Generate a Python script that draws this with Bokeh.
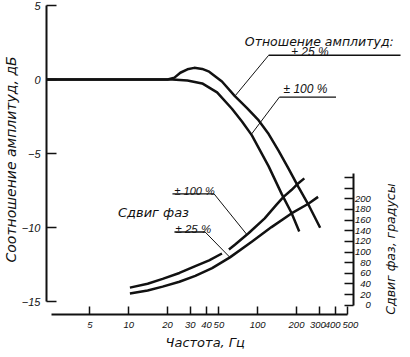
import math
from bokeh.plotting import figure
from bokeh.models import Range1d, LinearAxis, FixedTicker, Label, Title
from bokeh.embed import file_html
from bokeh.resources import INLINE

NAN = float("nan")

# ---------------- data ----------------
# amplitude ratio, dB  (±25 % and ±100 %)
amp_freq_25 = [2.3, 20.0, 22.6, 25.1, 28.5, 32.2, 37.1, 42.0, 52.8, 66.5, 82.3, 101.8, 121.6, 145, 173, 206.7, 251, 305]
amp_db_25 = [0, 0, 0.13, 0.46, 0.69, 0.79, 0.72, 0.53, -0.13, -1.12, -1.91, -2.76, -3.68, -4.80, -5.99, -7.24, -8.55, -10.0]
amp_freq_100 = [2.3, 21.8, 28.5, 37.1, 48.4, 63.1, 75.5, 89.9, 121.6, 153, 183, 210]
amp_db_100 = [0, 0, -0.07, -0.26, -0.86, -1.97, -2.83, -3.75, -5.86, -7.70, -9.01, -10.26]

# phase shift, degrees (the ±100 % curve is interrupted where a leader crosses it)
ph_freq_100 = [10.2, 14.0, 18.3, 24.7, 32.8, 42.0, 52.8, NAN, 59.8, 66.5, 85.3, 113.3, 140, 158.6, 182.6, 206.7, 230]
ph_deg_100 = [33.0, 40.4, 49.5, 60.6, 73.4, 84.4, 97.2, NAN, 104.6, 113.8, 135.8, 163.3, 189.0, 203.7, 216.5, 229.4, 238.5]
ph_freq_25 = [10.2, 14.0, 18.3, 24.7, 32.8, 44.3, 60.9, 89.9, 128, 182.6, 247, 294]
ph_deg_25 = [22.0, 27.5, 34.9, 44.0, 55.0, 69.7, 89.9, 119.3, 146.8, 172.5, 190.8, 203.7]

freq_ticks = [5, 10, 20, 30, 40, 50, 100, 200, 300, 400, 500]
freq_tick_labels = ["5", "10", "20", "30", "40", "50", "100", "200", "300", "400", "500"]
db_ticks = [-15, -10, -5, 0, 5]
db_tick_labels = ["−15", "−10", "−5", "0", "5"]
phase_ticks = [0, 20, 40, 60, 80, 100, 120, 140, 160, 180, 200, 220, 240]
phase_tick_labels = ["0", "20", "40", "60", "80", "100", "120", "140", "160", "180", "200", "", ""]

# ---------------- figure ----------------
TEXT_FONT = "DejaVu Sans"
NUM_FONT = "Liberation Sans"
INK = "#111111"
NB = "\u00a0"

p = figure(width=402, height=349, x_axis_type="log",
           x_range=Range1d(2.2989, 1328), y_range=Range1d(-15.86, 5.0),
           output_backend="svg", toolbar_location=None,
           min_border_left=43, min_border_right=0, min_border_top=5, min_border_bottom=32)
p.extra_y_ranges = {"phase": Range1d(-17.5, 563.5)}
p.outline_line_color = None
p.xgrid.visible = False
p.ygrid.visible = False
p.background_fill_color = "white"
p.border_fill_color = "white"

def style_axis(ax, size):
    ax.axis_line_color = INK
    ax.axis_line_width = 2
    ax.major_tick_line_color = INK
    ax.major_tick_line_width = 1.5
    ax.minor_tick_line_color = None
    ax.major_label_text_font = NUM_FONT
    ax.major_label_text_font_style = "italic"
    ax.major_label_text_font_size = size
    ax.major_label_text_color = INK

# crowded right-hand frequency labels are nudged sideways with padding
shown_freq_labels = list(freq_tick_labels)
shown_freq_labels[-3] = shown_freq_labels[-3] + NB
shown_freq_labels[-2] = shown_freq_labels[-2] + NB + NB
shown_freq_labels[-1] = NB + NB + shown_freq_labels[-1]

xa = p.xaxis[0]
xa.ticker = FixedTicker(ticks=freq_ticks, minor_ticks=[])
xa.bounds = (2.5, 500)
xa.major_label_overrides = dict(zip(freq_ticks, shown_freq_labels))
xa.major_tick_in = 8
xa.major_tick_out = 0
xa.major_label_standoff = 4
style_axis(xa, "9.5px")

ya = p.yaxis[0]
ya.ticker = FixedTicker(ticks=db_ticks, minor_ticks=[])
ya.bounds = (-15, 5)
ya.major_label_overrides = dict(zip(db_ticks, db_tick_labels))
ya.major_tick_in = 10
ya.major_tick_out = 0
ya.major_label_standoff = 6
style_axis(ya, "11px")

pa = LinearAxis(y_range_name="phase", fixed_location=557,
                ticker=FixedTicker(ticks=phase_ticks, minor_ticks=[]),
                bounds=(0, 248), major_tick_in=0, major_tick_out=9,
                major_label_standoff=-26,
                major_label_overrides=dict(zip(phase_ticks, phase_tick_labels)))
style_axis(pa, "9.5px")
p.add_layout(pa, "left")

# axis titles
p.add_layout(Title(text="Соотношение амплитуд, дБ", align="left", offset=52, standoff=0,
                   text_font=TEXT_FONT, text_font_style="italic", text_font_size="14px",
                   text_color=INK), "left")
p.add_layout(Title(text="Частота, Гц", align="left", offset=119, standoff=0,
                   text_font=TEXT_FONT, text_font_style="italic", text_font_size="13px",
                   text_color=INK), "below")

# ---------------- curves ----------------
p.line(amp_freq_25, amp_db_25, line_width=2.5, line_color=INK)
p.line(amp_freq_100, amp_db_100, line_width=2.5, line_color=INK)
p.line(ph_freq_100, ph_deg_100, y_range_name="phase", line_width=2.5, line_color=INK)
p.line(ph_freq_25, ph_deg_25, y_range_name="phase", line_width=2.5, line_color=INK)

# ---------------- annotations ----------------
def lbl(x, y, text, size="12px", rng="default", angle=0, align="left",
        baseline="alphabetic", font=TEXT_FONT):
    p.add_layout(Label(x=x, y=y, text=text, y_range_name=rng, angle=angle,
                       text_font=font, text_font_style="italic", text_font_size=size,
                       text_color=INK, text_align=align, text_baseline=baseline))

def seg(xs, ys, rng="default", w=1.0):
    p.line(xs, ys, y_range_name=rng, line_width=w, line_color=INK)

# amplitude labels
lbl(79.4, 2.55, "Отношение амплитуд:", size="12.5px")
lbl(182.6, 1.86, "± 25 %", font=NUM_FONT)
seg([121.6, 1282], [1.64, 1.64], w=1.3)
seg([121.6, 66.5], [1.64, -1.12])
lbl(158.5, -0.62, "± 100 %", font=NUM_FONT)
seg([147.5, 405], [-1.18, -1.18], w=1.3)
seg([147.5, 88.3], [-1.18, -3.75])

# phase labels
lbl(8.23, 174.3, "Сдвиг фаз", size="13px", rng="phase")
lbl(22.6, 214.5, "± 100 %", size="11px", rng="phase", font=NUM_FONT)
seg([21.8, 45.9], [209.2, 209.2], rng="phase", w=1.3)
seg([45.9, 82.3], [209.2, 133.0], rng="phase")
lbl(23.0, 143.5, "± 25 %", size="11.5px", rng="phase", font=NUM_FONT)
seg([22.6, 39.1], [137.6, 137.6], rng="phase", w=1.3)
seg([39.1, 60.9], [137.6, 89.9], rng="phase")

# right axis title (inside the drawing area)
lbl(1074, 105.5, "Сдвиг фаз, градусы", size="12.5px", rng="phase", angle=math.pi / 2,
    align="center", baseline="middle")

open("out.html", "w").write(file_html(p, INLINE))
